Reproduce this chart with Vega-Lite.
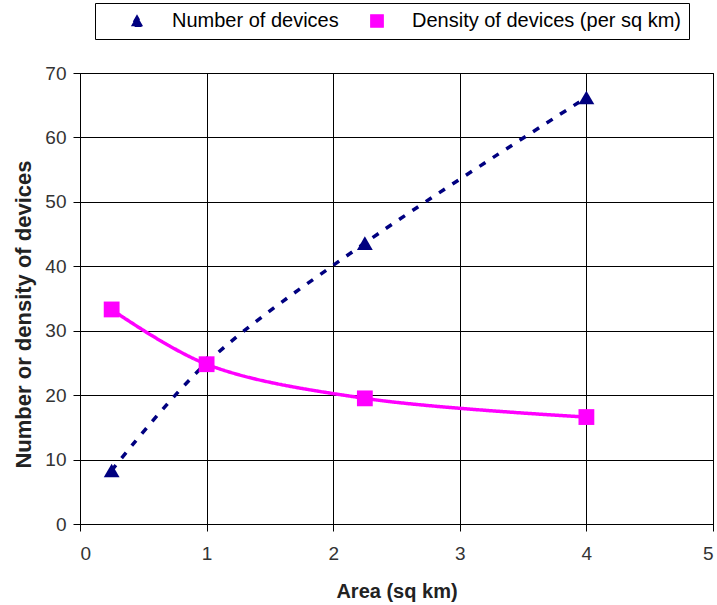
{
  "$schema": "https://vega.github.io/schema/vega-lite/v6.json",
  "width": 633,
  "height": 451,
  "autosize": {"type": "none"},
  "padding": {"left": 80, "top": 73, "right": 4, "bottom": 81},
  "background": "white",
  "data": {
    "values": [
      {"area": 0.25, "value": 8.3, "series": "Number of devices"},
      {"area": 1, "value": 25, "series": "Number of devices"},
      {"area": 2.25, "value": 43.6, "series": "Number of devices"},
      {"area": 4, "value": 66.2, "series": "Number of devices"},
      {"area": 0.25, "value": 33.3, "series": "Density of devices (per sq km)"},
      {"area": 1, "value": 24.8, "series": "Density of devices (per sq km)"},
      {"area": 2.25, "value": 19.5, "series": "Density of devices (per sq km)"},
      {"area": 4, "value": 16.6, "series": "Density of devices (per sq km)"}
    ]
  },
  "encoding": {
    "x": {
      "field": "area", "type": "quantitative",
      "scale": {"domain": [0, 5], "nice": false},
      "axis": {"title": "Area (sq km)", "values": [0, 1, 2, 3, 4, 5], "format": "d", "titlePadding": 18, "titleFontSize": 20, "labelPadding": 13}
    },
    "y": {
      "field": "value", "type": "quantitative",
      "scale": {"domain": [0, 70], "nice": false},
      "axis": {"title": "Number or density of devices", "values": [0, 10, 20, 30, 40, 50, 60, 70], "titlePadding": 9, "titleFontSize": 22, "titleY": 241, "labelPadding": 7}
    },
    "color": {
      "field": "series", "type": "nominal",
      "scale": {"domain": ["Number of devices", "Density of devices (per sq km)"], "range": ["#000080", "#FF00FF"]},
      "legend": {"title": null}
    }
  },
  "layer": [
    {
      "mark": {"type": "line", "interpolate": "catmull-rom", "strokeWidth": 3.5},
      "encoding": {
        "strokeDash": {
          "field": "series", "type": "nominal",
          "scale": {"domain": ["Number of devices", "Density of devices (per sq km)"], "range": [[7, 9], [1, 0]]},
          "legend": null
        }
      }
    },
    {
      "mark": {"type": "point", "filled": true, "opacity": 1, "size": 250},
      "encoding": {
        "shape": {
          "field": "series", "type": "nominal",
          "scale": {"domain": ["Number of devices", "Density of devices (per sq km)"], "range": ["triangle-up", "square"]},
          "legend": {"title": null}
        }
      }
    }
  ],
  "config": {
    "view": {"stroke": "black", "strokeWidth": 1},
    "axis": {
      "grid": true, "gridColor": "black", "gridOpacity": 1, "gridWidth": 1,
      "domainColor": "black", "tickColor": "black", "tickSize": 7,
      "labelFont": "Liberation Sans", "labelFontSize": 19, "labelColor": "#333333",
      "titleFont": "Liberation Sans", "titleFontWeight": "bold", "titleColor": "#222222"
    },
    "legend": {
      "orient": "none", "legendX": 15, "legendY": -70, "direction": "horizontal",
      "strokeColor": "black", "padding": 8, "labelFont": "Liberation Sans", "labelFontSize": 20,
      "labelColor": "black", "symbolSize": 150, "symbolOpacity": 1, "symbolOffset": 24,
      "columnPadding": 4, "labelOffset": 25, "labelLimit": 500
    }
  }
}
